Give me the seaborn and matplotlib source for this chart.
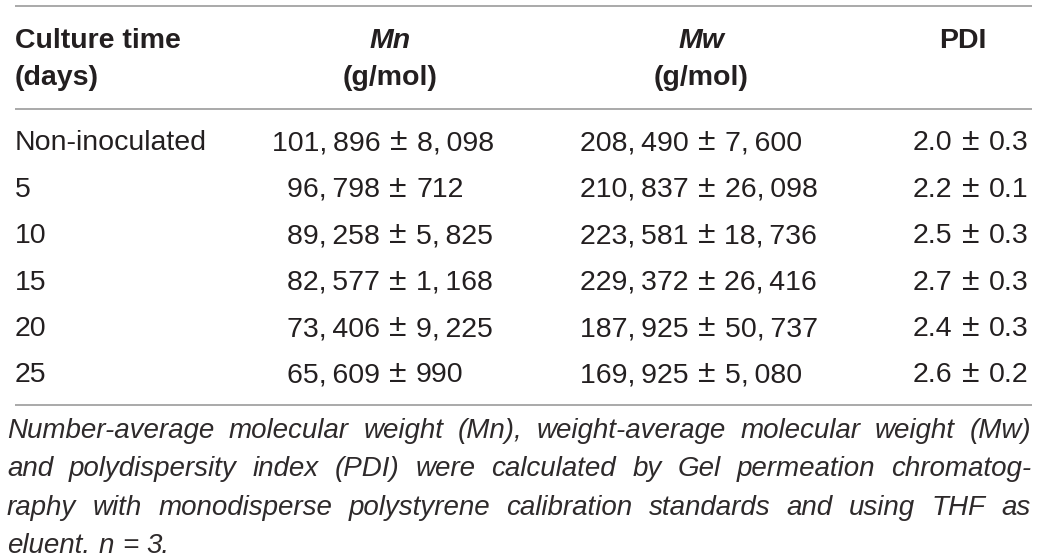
import matplotlib
matplotlib.use("Agg")
import matplotlib.pyplot as plt
import seaborn as sns

# table values
days = ["Non-inoculated", "5", "10", "15", "20", "25"]
mn_mean = [101896, 96798, 89258, 82577, 73406, 65609]
mn_sd = [8098, 712, 5825, 1168, 9225, 990]
mw_mean = [208490, 210837, 223581, 229372, 187925, 169925]
mw_sd = [7600, 26098, 18736, 26416, 50737, 5080]
pdi_mean = [2.0, 2.2, 2.5, 2.7, 2.4, 2.6]
pdi_sd = [0.3, 0.1, 0.3, 0.3, 0.3, 0.2]

header_top = ["Culture time", "Mn", "Mw", "PDI"]
header_bottom = ["(days)", "(g/mol)", "(g/mol)", ""]

caption = [
    "Number-average molecular weight (Mn), weight-average molecular weight (Mw)",
    "and polydispersity index (PDI) were calculated by Gel permeation chromatog-",
    "raphy with monodisperse polystyrene calibration standards and using THF as",
    "eluent. n = 3.",
]

sns.set_theme(style="white")
plt.rcParams['font.family'] = ['Liberation Sans', 'DejaVu Sans']

ink = "#231f20"
rule = "#9b9b9b"
fs = 20.5
cap_fs = 20

fig = plt.figure(figsize=(10.38, 5.59), dpi=100)
ax = fig.add_axes([0, 0, 1, 1])
ax.set_xlim(0, 1038)
ax.set_ylim(559, 0)
ax.axis("off")
fig.canvas.draw()
renderer = fig.canvas.get_renderer()


def thousands(v):
    return f"{v:,}".replace(",", ",\u2009")


def width(t):
    return t.get_window_extent(renderer=renderer).width


# horizontal rules
for y in [5.5, 108.5, 404.5]:
    ax.plot([15, 1032], [y, y], color=rule, lw=1.2, solid_capstyle="butt")

# header
ax.text(15, 48, header_top[0], fontsize=fs, weight="bold", color=ink, va="baseline")
ax.text(15, 85, header_bottom[0], fontsize=fs, weight="bold", color=ink, va="baseline")
for x, top, bot in [(390, header_top[1], header_bottom[1]),
                    (701, header_top[2], header_bottom[2]),
                    (963, header_top[3], header_bottom[3])]:
    ax.text(x, 48, top, fontsize=fs, weight="bold", color=ink, ha="center", va="baseline",
            style="italic" if top != "PDI" else "normal")
    if bot:
        ax.text(x, 85, bot, fontsize=fs, weight="bold", color=ink, ha="center", va="baseline")

# body rows: "mean ± sd" set left to right from a start position
half = 18
for i, d in enumerate(days):
    y = 150.5 + 46.4 * i
    ax.text(15, y, d, fontsize=fs, color=ink, va="baseline")
    cols = [(272 if mn_mean[i] >= 100000 else 287, thousands(mn_mean[i]), thousands(mn_sd[i])),
            (580, thousands(mw_mean[i]), thousands(mw_sd[i])),
            (913, f"{pdi_mean[i]:.1f}", f"{pdi_sd[i]:.1f}")]
    for x, m, s in cols:
        t = ax.text(x, y, m, fontsize=fs, color=ink, va="baseline")
        x += width(t) + half
        ax.text(x, y, "\u00b1", fontsize=fs * 1.12, color=ink, ha="center", va="baseline")
        x += half
        ax.text(x, y, s, fontsize=fs, color=ink, va="baseline")

# justified caption
left, right = 7, 1031
for j, line in enumerate(caption):
    y = 438 + 38.3 * j
    words = line.split(" ")
    objs = [ax.text(0, y, w, fontsize=cap_fs, style="italic", color="#2e2a2b", va="baseline")
            for w in words]
    widths = [width(o) for o in objs]
    if j < len(caption) - 1:
        space = (right - left - sum(widths)) / (len(words) - 1)
    else:
        space = cap_fs * 100 / 72 * 0.3
    x = left
    for o, w in zip(objs, widths):
        o.set_x(x)
        x += w + space

fig.savefig("out.png", dpi=100, facecolor="white")
